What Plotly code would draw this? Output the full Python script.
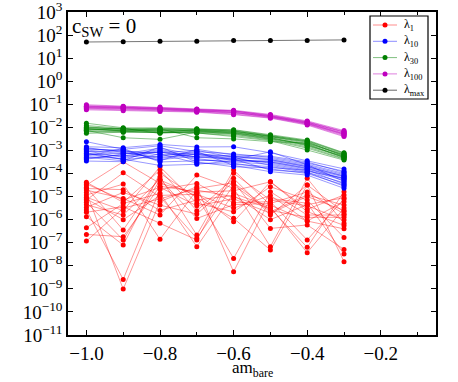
import plotly.graph_objects as go

# bare mass values (x axis)
am_bare = [-1.0, -0.9, -0.8, -0.7, -0.6, -0.5, -0.4, -0.3]

# eigenvalues, stored as log10 values, one row per configuration
lam1_log10 = [
    [-4.38, -5.25, -3.85, -5.61, -4.21, -5.80, -4.50, -5.66],
    [-4.50, -3.49, -4.43, -4.86, -6.09, -4.36, -5.55, -4.93],
    [-4.60, -6.45, -4.14, -6.67, -3.85, -5.37, -6.06, -5.22],
    [-4.72, -5.08, -5.80, -4.07, -4.64, -7.17, -4.21, -6.16],
    [-4.82, -9.01, -5.22, -4.57, -8.26, -5.08, -5.29, -7.49],
    [-4.93, -4.46, -6.85, -4.72, -5.01, -5.51, -7.20, -4.79],
    [-5.03, -5.61, -3.71, -5.29, -5.66, -4.57, -5.15, -6.77],
    [-5.15, -3.97, -5.01, -6.81, -4.50, -5.66, -4.93, -5.37],
    [-5.25, -6.88, -4.28, -4.98, -7.68, -4.79, -5.80, -5.80],
    [-5.47, -4.82, -5.37, -5.76, -4.36, -6.38, -6.23, -7.29],
    [-5.58, -8.59, -4.69, -4.43, -5.27, -5.22, -6.88, -5.10],
    [-5.68, -5.44, -6.16, -6.88, -3.99, -5.15, -5.40, -6.02],
    [-5.87, -7.10, -3.99, -5.05, -5.94, -7.32, -4.50, -7.82],
    [-6.35, -5.30, -4.86, -7.17, -4.86, -5.45, -7.43, -5.50],
    [-6.64, -6.74, -4.55, -4.80, -4.75, -4.36, -5.65, -6.25],
    [-6.93, -5.50, -5.10, -4.65, -4.40, -5.60, -5.90, -5.90],
    [-4.45, -5.15, -4.60, -5.40, -5.10, -5.72, -5.00, -5.60],
    [-5.10, -6.00, -4.95, -4.90, -5.50, -4.95, -6.06, -6.40],
    [-4.65, -4.70, -5.60, -5.15, -4.95, -6.00, -5.35, -5.05],
    [-5.35, -5.80, -4.25, -5.95, -5.35, -5.30, -4.80, -5.75],
]

lam10_log10 = [
    [-2.62, -2.95, -2.80, -3.05, -3.15, -3.30, -3.55, -3.90],
    [-2.84, -2.88, -2.74, -2.85, -2.84, -3.10, -3.45, -3.80],
    [-2.91, -3.05, -3.10, -3.00, -3.30, -3.40, -3.65, -4.05],
    [-2.98, -3.15, -2.90, -3.20, -3.25, -3.35, -3.60, -4.00],
    [-3.06, -3.00, -3.20, -3.10, -3.40, -3.50, -3.75, -4.15],
    [-3.13, -3.25, -2.95, -3.30, -3.35, -3.55, -3.80, -4.25],
    [-3.20, -3.10, -3.30, -3.15, -3.45, -3.45, -3.70, -4.10],
    [-3.27, -3.35, -3.05, -3.40, -3.50, -3.60, -3.85, -4.30],
    [-3.34, -3.20, -3.40, -3.25, -3.30, -3.65, -3.90, -4.20],
    [-3.46, -3.49, -3.15, -3.55, -3.60, -3.70, -3.95, -4.40],
    [-2.95, -2.98, -3.45, -2.95, -3.20, -3.25, -3.50, -3.95],
    [-3.02, -3.30, -3.00, -3.35, -3.55, -3.80, -4.00, -4.50],
    [-3.10, -3.40, -3.25, -3.05, -3.65, -3.92, -4.07, -4.64],
    [-3.23, -2.92, -3.50, -3.45, -3.40, -3.06, -3.62, -4.35],
    [-3.30, -3.45, -2.85, -3.50, -3.71, -3.75, -3.85, -4.45],
    [-2.88, -3.08, -3.35, -3.15, -3.25, -3.40, -3.70, -4.12],
    [-3.16, -3.38, -3.65, -3.60, -3.45, -3.50, -3.78, -4.22],
    [-3.38, -3.15, -3.08, -3.28, -3.38, -3.85, -3.95, -4.55],
]

lam30_log10 = [
    [-1.82, -2.02, -2.05, -2.06, -2.10, -2.32, -2.55, -3.10],
    [-1.92, -2.05, -2.02, -2.08, -2.12, -2.35, -2.60, -3.15],
    [-1.97, -2.10, -2.10, -2.12, -2.18, -2.38, -2.65, -3.20],
    [-2.02, -2.08, -2.08, -2.10, -2.15, -2.40, -2.70, -3.22],
    [-2.06, -2.12, -2.14, -2.15, -2.20, -2.42, -2.62, -3.25],
    [-2.10, -2.15, -2.12, -2.14, -2.22, -2.45, -2.75, -3.28],
    [-2.13, -2.45, -2.52, -2.20, -2.25, -2.48, -2.80, -3.30],
    [-2.16, -2.18, -2.16, -2.18, -2.28, -2.50, -2.72, -3.32],
    [-2.19, -2.20, -2.18, -2.22, -2.30, -2.52, -2.85, -3.35],
    [-2.26, -2.21, -2.22, -2.25, -2.35, -2.55, -2.90, -3.38],
    [-2.00, -2.06, -2.20, -2.24, -2.40, -2.58, -2.98, -3.42],
    [-2.08, -2.14, -2.06, -2.45, -2.50, -2.62, -2.68, -3.18],
    [-2.04, -2.16, -2.24, -2.08, -2.16, -2.36, -2.58, -3.12],
    [-2.12, -2.04, -2.26, -2.16, -2.24, -2.44, -2.78, -3.26],
]

lam100_log10 = [
    [-1.02, -1.08, -1.12, -1.20, -1.26, -1.44, -1.72, -2.14],
    [-1.06, -1.10, -1.15, -1.22, -1.28, -1.47, -1.75, -2.18],
    [-1.09, -1.12, -1.17, -1.24, -1.30, -1.49, -1.77, -2.22],
    [-1.12, -1.15, -1.20, -1.26, -1.33, -1.52, -1.80, -2.26],
    [-1.14, -1.18, -1.22, -1.28, -1.35, -1.54, -1.82, -2.28],
    [-1.17, -1.20, -1.25, -1.30, -1.38, -1.56, -1.85, -2.32],
    [-1.20, -1.24, -1.28, -1.32, -1.42, -1.58, -1.87, -2.36],
    [-1.24, -1.28, -1.31, -1.34, -1.45, -1.60, -1.90, -2.40],
    [-1.08, -1.14, -1.18, -1.23, -1.29, -1.50, -1.78, -2.20],
    [-1.15, -1.16, -1.21, -1.27, -1.36, -1.53, -1.83, -2.30],
]

lammax_log10 = [
    [1.70, 1.71, 1.73, 1.73, 1.76, 1.76, 1.77, 1.79],
]

series = [
    ("λ<sub>1</sub>", lam1_log10, "#ff0000", "rgba(255,0,0,0.45)"),
    ("λ<sub>10</sub>", lam10_log10, "#0000ff", "rgba(0,0,255,0.45)"),
    ("λ<sub>30</sub>", lam30_log10, "#008000", "rgba(0,128,0,0.5)"),
    ("λ<sub>100</sub>", lam100_log10, "#bf00bf", "rgba(191,0,191,0.5)"),
    ("λ<sub>max</sub>", lammax_log10, "#000000", "rgba(0,0,0,0.6)"),
]

ytick_exp = list(range(3, -12, -1))

fig = go.Figure()
for name, rows, mcol, lcol in series:
    for row in rows:
        fig.add_trace(go.Scatter(
            x=am_bare,
            y=[10 ** v for v in row],
            mode="lines+markers",
            name=name,
            showlegend=False,
            line=dict(color=lcol, width=0.9),
            marker=dict(color=mcol, size=5),
        ))

# plot area in pixels: x 68..436, y 12..335
W, H = 458, 382
ml, mr, mt, mb = 68, 22, 12, 47
pw, ph = W - ml - mr, H - mt - mb


def px(x):
    return (x - ml) / pw


def py(y):
    return (H - mb - y) / ph


# hand-drawn legend box (plotly legend rows are too tall here)
shapes = [dict(type="rect", xref="paper", yref="paper",
               x0=px(370), x1=px(428), y0=py(99), y1=py(16),
               line=dict(color="black", width=1.2), fillcolor="white", layer="above")]
annotations = []
for k, (name, rows, mcol, lcol) in enumerate(series):
    yy = py(25 + 16.3 * k)
    shapes.append(dict(type="line", xref="paper", yref="paper",
                       x0=px(373), x1=px(397), y0=yy, y1=yy,
                       line=dict(color=lcol, width=1), layer="above"))
    shapes.append(dict(type="circle", xref="paper", yref="paper",
                       xsizemode="pixel", ysizemode="pixel",
                       xanchor=px(385), yanchor=yy, x0=-2.5, x1=2.5, y0=-2.5, y1=2.5,
                       fillcolor=mcol, line=dict(color=mcol, width=0), layer="above"))
    annotations.append(dict(text=name, xref="paper", yref="paper", x=px(402), y=yy,
                            xanchor="left", yanchor="middle", showarrow=False,
                            font=dict(size=12)))

annotations.append(dict(
    text="c<sub>SW</sub> = 0", x=0.005, y=1.0, xref="paper", yref="paper",
    xanchor="left", yanchor="top", showarrow=False, font=dict(size=21)))
annotations.append(dict(
    text="am<sub>bare</sub>", x=0.5, y=py(382), xref="paper", yref="paper",
    xanchor="center", yanchor="bottom", showarrow=False, font=dict(size=17)))

font = "Liberation Serif"
fig.update_layout(
    width=W, height=H,
    margin=dict(l=ml, r=mr, t=mt, b=mb, autoexpand=False),
    paper_bgcolor="white", plot_bgcolor="white",
    font=dict(family=font, size=19, color="black"),
    showlegend=False,
    shapes=shapes,
    annotations=annotations,
)
fig.update_xaxes(
    range=[-1.05, -0.05], dtick=0.2, tick0=-1.0, tickformat=".1f",
    ticks="inside", ticklen=5, tickwidth=1, tickcolor="black",
    minor=dict(dtick=0.1, ticks="inside", ticklen=3, tickcolor="black"),
    showline=True, linecolor="black", linewidth=1.5, mirror="allticks",
    showgrid=False, zeroline=False, automargin=False,
)
fig.update_yaxes(
    type="log", range=[-11, 3],
    tickvals=[10 ** e for e in ytick_exp],
    ticktext=["10<sup>%s</sup>" % (str(e).replace("-", "−")) for e in ytick_exp],
    ticks="inside", ticklen=5, tickwidth=1, tickcolor="black",
    showline=True, linecolor="black", linewidth=1.5, mirror="allticks",
    showgrid=False, zeroline=False, automargin=False, ticklabeloverflow="allow",
)

# drop the browser's default 8px body margin so the figure fills the window
fig.write_html("out.html", config={"displayModeBar": False},
               post_script="document.body.style.margin='0';")
